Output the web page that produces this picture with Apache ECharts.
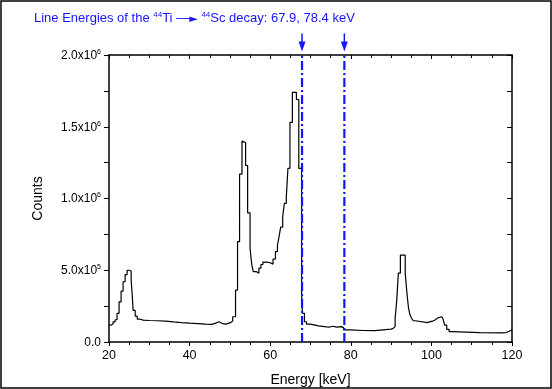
<!DOCTYPE html>
<html>
<head>
<meta charset="utf-8">
<script src="https://cdn.jsdelivr.net/npm/echarts@6/dist/echarts.min.js"></script>
<style>
  html, body { margin: 0; padding: 0; background: #fff; }
  #main { width: 552px; height: 389px; }
</style>
</head>
<body>
<div id="main"></div>
<script>
// spectrum: left edge of each step (keV) and counts in that step
const energies = [
  20.0, 20.5, 21.0, 21.5, 22.0, 22.5, 23.0, 23.5, 24.0, 24.5, 25.0, 25.5, 25.75, 26.0, 26.5, 27.0, 27.5,
  28.5, 30.0, 32.0, 34.0, 36.0, 38.0, 40.0, 42.0, 44.0, 45.5, 46.3, 47.3, 48.0, 49.0, 50.0, 50.7,
  51.4, 51.9, 52.4, 53.0, 53.4, 53.9, 54.4, 55.0, 55.4, 55.8, 56.6, 57.2, 57.7, 58.2, 59.2, 60.0,
  60.7, 61.3, 61.8, 62.2, 62.6, 63.1, 63.5, 64.0, 64.4, 64.9, 65.5, 66.5, 67.1, 67.8, 68.0, 68.5,
  69.0, 70.0, 72.0, 74.0, 74.6, 75.5, 76.5, 77.7, 78.2, 80.0, 83.0, 86.0, 88.0, 90.0, 90.5, 91.0,
  91.4, 91.8, 92.3, 93.5, 93.9, 94.3, 94.7, 95.1, 95.5, 96.0, 99.0, 99.5, 100.3, 101.0, 101.6, 102.6,
  102.9, 103.3, 103.8, 104.4, 105.2, 112.0, 117.5, 118.5, 119.3, 120.0
];
const counts = [
  118000, 125000, 140000, 155000, 200000, 280000, 355000, 420000, 470000, 500000, 495000, 430000, 330000, 220000, 180000, 160000, 152000,
  150000, 148000, 146000, 140000, 135000, 131000, 128000, 125000, 123000, 130000, 141000, 130000, 125000, 133000, 146000, 176000,
  362000, 700000, 1170000, 1400000, 1390000, 1230000, 900000, 655000, 543000, 490000, 480000, 515000, 540000, 557000, 552000, 543000,
  578000, 630000, 676000, 734000, 800000, 873000, 966000, 1010000, 1210000, 1530000, 1740000, 1690000, 1210000, 330000, 200000, 141000,
  125000, 112000, 105000, 103000, 110000, 104000, 107000, 100000, 84000, 80000, 79000, 85000, 90000, 95000, 107000, 167000,
  290000, 480000, 605000, 480000, 350000, 240000, 188000, 165000, 148000, 135000, 140000, 145000, 155000, 168000, 176000, 165000,
  158000, 118000, 88000, 72000, 65000, 64000, 66000, 75000, 84000, 84000
];

// Ti-44 -> Sc-44 decay line energies (keV)
const lineEnergies = [67.9, 78.4];
const lineTop = 2000000;
const arrowStart = 2150000;
const arrowTip = 2060000;

const xTicks = [20, 40, 60, 80, 100, 120];
const yTicks = [0, 500000, 1000000, 1500000, 2000000];

const chartDom = document.getElementById("main");
const myChart = echarts.init(chartDom);

const spectrum = energies.map((e, i) => [e, counts[i]]);

const sciLabel = (v) => {
  if (v === 0) return "{n|0.0}";
  const exp = Math.floor(Math.log10(v));
  const m = (v / Math.pow(10, exp)).toFixed(1);
  return "{n|" + m + "x10}{sup|" + exp + "}";
};

const blue = "#1414ff";

const lineSeries = [];
lineEnergies.forEach((e) => {
  lineSeries.push({
    type: "line",
    data: [[e, 0], [e, lineTop]],
    symbol: "none",
    clip: false,
    z: 5,
    lineStyle: { color: blue, width: 2.2, type: [9, 3, 2, 3] },
    silent: true,
  });
  lineSeries.push({
    type: "line",
    data: [
      { value: [e, arrowStart], symbol: "none" },
      { value: [e, arrowTip], symbol: "triangle", symbolSize: [7, 10], symbolRotate: 180 },
    ],
    showSymbol: true,
    clip: false,
    z: 5,
    itemStyle: { color: blue },
    lineStyle: { color: blue, width: 1.5 },
    silent: true,
  });
});

const option = {
  animation: false,
  backgroundColor: "#fff",
  textStyle: { fontFamily: "Liberation Sans, Arial, sans-serif" },
  title: {
    left: 29,
    top: 6,
    text: "{t|Line Energies of the }{s|44}{t|Ti }{a|\u2500\u2500\u25BA}{t| }{s|44}{t|Sc decay: 67.9, 78.4 keV}",
    textStyle: {
      fontWeight: "normal",
      rich: {
        t: { color: blue, fontSize: 13, fontWeight: "normal", fontFamily: "Liberation Sans", lineHeight: 14, verticalAlign: "bottom" },
        s: { color: blue, fontSize: 8, fontWeight: "normal", fontFamily: "Liberation Sans", lineHeight: 14, verticalAlign: "top" },
        a: { color: blue, fontSize: 11, fontWeight: "normal", fontFamily: "DejaVu Sans", lineHeight: 14, verticalAlign: "bottom" },
      },
    },
  },
  graphic: [
    {
      type: "rect",
      shape: { x: 1, y: 1, width: 550, height: 387 },
      style: { fill: "none", stroke: "#000", lineWidth: 1.5 },
      silent: true,
    },
  ],
  grid: { left: 109, right: 40, top: 55, bottom: 47, outerBoundsMode: "none", containLabel: false },
  xAxis: [
    {
      type: "value",
      min: xTicks[0],
      max: xTicks[xTicks.length - 1],
      interval: 20,
      name: "Energy [keV]",
      nameLocation: "middle",
      nameGap: 31,
      nameTextStyle: { fontSize: 14, color: "#000", fontFamily: "Liberation Sans" },
      axisLine: { show: true, onZero: false, lineStyle: { color: "#000", width: 1.5 } },
      axisTick: { show: true, inside: false, length: 4, lineStyle: { color: "#000", width: 1 } },
      minorTick: { show: true, splitNumber: 4, length: 3, lineStyle: { color: "#000", width: 1 } },
      axisLabel: { color: "#000", fontSize: 12.5, margin: 7, fontFamily: "Liberation Sans" },
      splitLine: { show: false },
    },
    {
      type: "value",
      position: "top",
      min: xTicks[0],
      max: xTicks[xTicks.length - 1],
      interval: 20,
      axisLine: { show: true, onZero: false, lineStyle: { color: "#000", width: 1.5 } },
      axisTick: { show: true, inside: true, length: 4, lineStyle: { color: "#000", width: 1 } },
      minorTick: { show: true, splitNumber: 4, length: 3, lineStyle: { color: "#000", width: 1 } },
      axisLabel: { show: false },
      splitLine: { show: false },
    },
  ],
  yAxis: [
    {
      type: "value",
      min: yTicks[0],
      max: yTicks[yTicks.length - 1],
      interval: 500000,
      name: "Counts",
      nameLocation: "middle",
      nameGap: 64,
      nameTextStyle: { fontSize: 14, color: "#000", fontFamily: "Liberation Sans" },
      axisLine: { show: true, onZero: false, lineStyle: { color: "#000", width: 1.5 } },
      axisTick: { show: true, inside: false, length: 5, lineStyle: { color: "#000", width: 1 } },
      minorTick: { show: true, splitNumber: 2, length: 5, lineStyle: { color: "#000", width: 1 } },
      axisLabel: {
        color: "#000",
        fontSize: 12,
        margin: 8,
        formatter: sciLabel,
        rich: {
          n: { fontSize: 12, color: "#000", fontFamily: "Liberation Sans", lineHeight: 13, verticalAlign: "bottom" },
          sup: { fontSize: 7, color: "#000", fontFamily: "Liberation Sans", lineHeight: 13, verticalAlign: "top" },
        },
      },
      splitLine: { show: false },
    },
    {
      type: "value",
      position: "right",
      min: yTicks[0],
      max: yTicks[yTicks.length - 1],
      interval: 500000,
      axisLine: { show: true, onZero: false, lineStyle: { color: "#000", width: 1.5 } },
      axisTick: { show: true, inside: true, length: 5, lineStyle: { color: "#000", width: 1 } },
      minorTick: { show: true, splitNumber: 2, length: 5, lineStyle: { color: "#000", width: 1 } },
      axisLabel: { show: false },
      splitLine: { show: false },
    },
  ],
  series: [
    {
      name: "spectrum",
      type: "line",
      step: "end",
      symbol: "none",
      data: spectrum,
      z: 3,
      lineStyle: { color: "#000", width: 1.2 },
      silent: true,
    },
    ...lineSeries,
  ],
};

myChart.setOption(option);
</script>
</body>
</html>
